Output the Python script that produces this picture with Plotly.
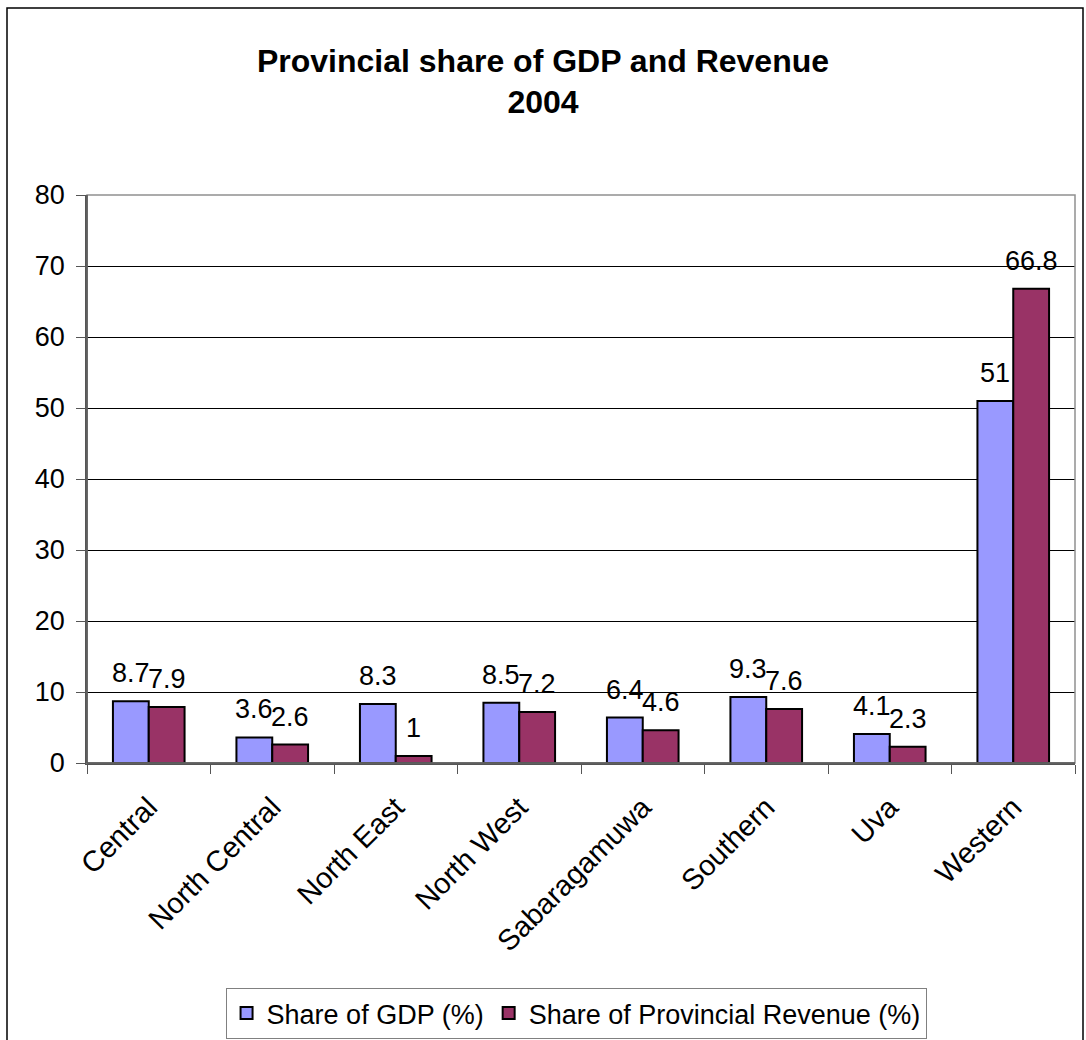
import plotly.graph_objects as go

provinces = ["Central", "North Central", "North East", "North West",
             "Sabaragamuwa", "Southern", "Uva", "Western"]
gdp_share = [8.7, 3.6, 8.3, 8.5, 6.4, 9.3, 4.1, 51]
revenue_share = [7.9, 2.6, 1, 7.2, 4.6, 7.6, 2.3, 66.8]
y_ticks = [0, 10, 20, 30, 40, 50, 60, 70, 80]

FONT = "Liberation Sans, Arial, sans-serif"
FS = 27
BARGAP = 0.42
PLOT_W = 1086 - 87 - 11
BAR_PX = PLOT_W / len(provinces) * (1 - BARGAP) / 2

fig = go.Figure()
fig.add_trace(go.Bar(
    x=provinces, y=gdp_share, name="Share of GDP (%)",
    marker=dict(color="#9999FF", line=dict(color="black", width=2)),
))
fig.add_trace(go.Bar(
    x=provinces, y=revenue_share, name="Share of Provincial Revenue (%)",
    marker=dict(color="#993366", line=dict(color="black", width=2)),
))

annotations = []
for series, shift in ((gdp_share, -BAR_PX / 2), (revenue_share, BAR_PX / 2)):
    for cat, v in zip(provinces, series):
        annotations.append(dict(
            x=cat, y=v, xref="x", yref="y", text=f"{v:g}", showarrow=False,
            xanchor="center", yanchor="bottom", xshift=shift, yshift=11,
            font=dict(size=FS, family=FONT, color="black")))

fig.update_layout(
    width=1086, height=1040,
    margin=dict(l=87, r=11, t=195, b=277, autoexpand=False),
    paper_bgcolor="white", plot_bgcolor="white",
    font=dict(family=FONT, size=FS, color="black"),
    barmode="group", bargap=BARGAP, bargroupgap=0,
    title=dict(text="<b>Provincial share of GDP and Revenue<br>2004</b>",
               x=0.5, xanchor="center", y=0.931, yanchor="top",
               font=dict(size=32, family=FONT, color="black")),
    showlegend=True,
    legend=dict(orientation="h", x=0.495, xanchor="center", y=-0.396, yanchor="top",
                bordercolor="#808080", borderwidth=1, bgcolor="white",
                font=dict(size=FS, family=FONT, color="black"),
                itemwidth=30, tracegroupgap=0),
    xaxis=dict(type="category", tickangle=-45, tickson="boundaries",
               ticks="outside", ticklen=9, tickcolor="#555555",
               showline=True, linecolor="#555555", linewidth=1.5,
               tickfont=dict(size=29, family=FONT, color="black"),
               ticklabelstandoff=14,
               showgrid=False),
    yaxis=dict(range=[0, 80], tickvals=y_ticks, ticks="outside", ticklen=9,
               tickcolor="#555555", showline=True, linecolor="#555555", linewidth=1.5,
               showgrid=True, gridcolor="black", gridwidth=1,
               tickfont=dict(size=FS, family=FONT, color="black"),
               ticklabelstandoff=6,
               zeroline=False),
    annotations=annotations,
    shapes=[
        dict(type="rect", xref="paper", yref="paper", x0=0, x1=1, y0=0, y1=1,
             line=dict(color="#909090", width=1.5), layer="above"),
        dict(type="line", xref="paper", yref="paper", x0=0, x1=0, y0=0, y1=1,
             line=dict(color="#555555", width=1.5), layer="above"),
        dict(type="line", xref="paper", yref="paper", x0=0, x1=1, y0=0, y1=0,
             line=dict(color="#555555", width=1.5), layer="above"),
        dict(type="rect", xref="paper", yref="paper",
             x0=(7 - 87) / 988, x1=(1083 - 87) / 988,
             y0=(763 - 1060) / 568, y1=(763 - 8) / 568,
             line=dict(color="black", width=1.5), layer="below"),
    ],
)

fig.write_html("out.html")
